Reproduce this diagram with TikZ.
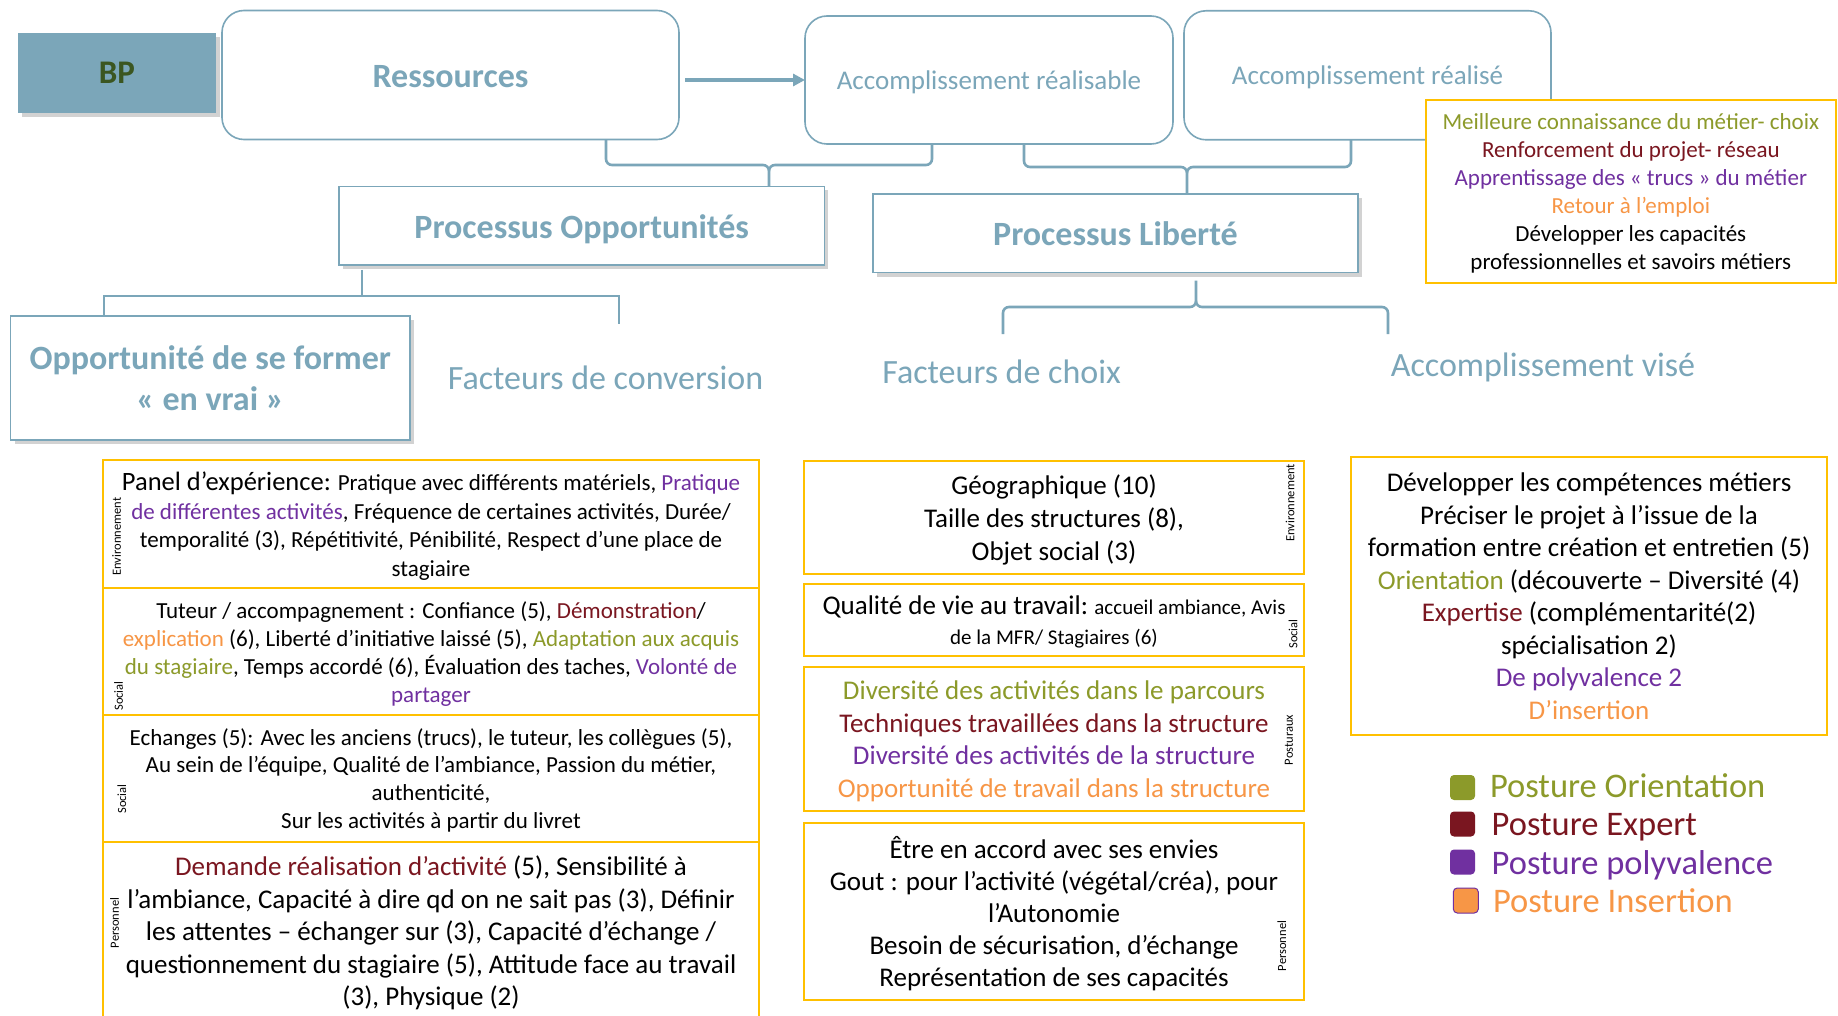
\documentclass[tikz,border=0pt]{standalone}
\usepackage{fontspec}
\setmainfont{Carlito}
\usetikzlibrary{arrows.meta,shadows,calc}
\definecolor{bgc}{RGB}{123,166,185}
\definecolor{bpgreen}{RGB}{59,86,33}
\definecolor{gold}{RGB}{255,192,0}
\definecolor{olive}{RGB}{140,154,42}
\definecolor{dred}{RGB}{122,22,32}
\definecolor{purp}{RGB}{112,48,160}
\definecolor{orng}{RGB}{247,150,70}
\newcommand{\fsz}[2]{\fontsize{#1}{#2}\selectfont}
\begin{document}
\begin{tikzpicture}[x=1pt,y=-1pt,
  every node/.style={inner sep=0pt, outer sep=0pt},
  rbox/.style={draw=bgc, line width=1.6pt, rounded corners=22pt, fill=white, text=bgc},
  sbox/.style={draw=bgc, line width=1.6pt, fill=white, text=bgc,
     drop shadow={shadow xshift=4pt, shadow yshift=-4pt, opacity=0.35}},
  big/.style={text height=25pt, text depth=0pt},
  mid/.style={text height=19pt, text depth=0pt},
  obox/.style={draw=gold, line width=2pt, fill=white, align=center, text=black, text depth=0pt},
  head/.style={text=bgc, font=\fsz{34}{38}, anchor=base},
  side/.style={rotate=90, font=\fsz{12.5}{14}, text=black},
  brk/.style={draw=bgc, line width=2.6pt},
  swatch/.style={minimum size=25pt, rounded corners=4pt},
  legtxt/.style={anchor=base west, font=\fsz{34.5}{38}},
]
\useasboundingbox (0,0) rectangle (1838,1016);
\fill[white] (0,0) rectangle (1838,1016);

% top row
\node[sbox, fill=bgc, draw=none, minimum width=198pt, minimum height=80pt, text=bpgreen, font=\bfseries\fsz{33}{38}] (bp) at (117,73) {BP};
\node[rbox, big, minimum width=457pt, minimum height=129pt, font=\bfseries\fsz{34}{38}] (res) at (450.5,75) {Ressources};
\node[rbox, mid, minimum width=368pt, minimum height=128pt, font=\fsz{27}{30}] (accr) at (989,80) {Accomplissement réalisable};
\node[rbox, mid, minimum width=367pt, minimum height=129pt, font=\fsz{27}{30}] (accz) at (1367.5,75.3) {Accomplissement réalisé};

\coordinate (ay) at (0,80);
\draw[bgc, line width=4pt, shorten <=6pt, -{Triangle[length=12pt,width=12pt]}] (res.east |- ay) -- (accr.west |- ay);

% process boxes
\node[sbox, big, minimum width=485.5pt, minimum height=78.5pt, font=\bfseries\fsz{34}{38}] (po) at (581.7,225.7) {Processus Opportunités};
\node[sbox, big, minimum width=485pt, minimum height=78.7pt, font=\bfseries\fsz{34}{38}] (pl) at (1115.5,233.3) {Processus Liberté};
\node[sbox, minimum width=399.4pt, minimum height=124pt, align=center, font=\bfseries\fsz{34}{41}] (opp) at (210.3,378) {Opportunité de se former\\« en vrai »};

\node[head] (fconv) at (605.5,389) {Facteurs de conversion};
\node[head] (fchoix) at (1001.6,383) {Facteurs de choix};
\node[head] (avise) at (1543,376) {Accomplissement visé};

% brackets
\coordinate (b1l) at (606,0); \coordinate (b1r) at (932,0); \coordinate (b1c) at (769,0);
\draw[brk] (res.south -| b1l) -- (606,159) to[out=-90,in=180] (612,165) -- (763,165) to[out=0,in=90] (769,171) -- (po.north -| b1c);
\draw[brk] (accr.south -| b1r) -- (932,159) to[out=-90,in=0] (926,165) -- (775,165) to[out=180,in=90] (769,171);

\coordinate (b2l) at (1024,0); \coordinate (b2r) at (1351,0); \coordinate (b2c) at (1187,0);
\draw[brk] (accr.south -| b2l) -- (1024,161) to[out=-90,in=180] (1030,167) -- (1181,167) to[out=0,in=90] (1187,173) -- (pl.north -| b2c);
\draw[brk] (accz.south -| b2r) -- (1351,161) to[out=-90,in=0] (1345,167) -- (1193,167) to[out=180,in=90] (1187,173);

\coordinate (b3l) at (104,0); \coordinate (b3c) at (362,0); \coordinate (b3r) at (619,324);
\draw[brk] ($(po.south -| b3c)+(0,5)$) -- (362,296);
\draw[brk] (opp.north -| b3l) -- (104,296) -- (619,296) -- (b3r);

\coordinate (b4c) at (1196,0); \coordinate (b4l) at (1003,334); \coordinate (b4r) at (1388,334);
\draw[brk] ($(pl.south -| b4c)+(0,8)$) -- (1196,301) to[out=-90,in=0] (1190,307) -- (1009,307) to[out=180,in=90] (1003,313) -- (b4l);
\draw[brk] (1196,301) to[out=-90,in=180] (1202,307) -- (1382,307) to[out=0,in=90] (1388,313) -- (b4r);

% top right box
\node[obox, minimum width=410.4pt, minimum height=182pt, font=\fsz{23}{28}] (tr) at (1630.8,191.5) {\textcolor{olive}{Meilleure connaissance du métier- choix}\\\textcolor{dred}{Renforcement du projet- réseau}\\\textcolor{purp}{Apprentissage des « trucs » du métier}\\\textcolor{orng}{Retour à l’emploi}\\Développer les capacités\\professionnelles et savoirs métiers};

% left column
\node[obox, minimum width=656pt, minimum height=128.3pt, font=\fsz{23}{28.5}] (l1) at (431,524.2) {{\fsz{26.5}{28.5}Panel d’expérience:} Pratique avec différents matériels, \textcolor{purp}{Pratique}\\\textcolor{purp}{de différentes activités}, Fréquence de certaines activités, Durée/\\temporalité (3), Répétitivité, Pénibilité, Respect d’une place de\\stagiaire};
\node[obox, minimum width=656pt, minimum height=126.7pt, font=\fsz{23}{28}] (l2) at (431,651.7) {Tuteur / accompagnement : Confiance (5), \textcolor{dred}{Démonstration}/\\\textcolor{orng}{explication} (6), Liberté d’initiative laissé (5), \textcolor{olive}{Adaptation aux acquis}\\\textcolor{olive}{du stagiaire}, Temps accordé (6), Évaluation des taches, \textcolor{purp}{Volonté de}\\\textcolor{purp}{partager}};
\node[obox, minimum width=656pt, minimum height=126.7pt, font=\fsz{23}{27.8}] (l3) at (431,778.3) {Echanges (5): Avec les anciens (trucs), le tuteur, les collègues (5),\\Au sein de l’équipe, Qualité de l’ambiance, Passion du métier,\\authenticité,\\Sur les activités à partir du livret};
\node[obox, minimum width=656pt, minimum height=178.3pt, font=\fsz{27}{32.4}] (l4) at (431,930.8) {\textcolor{dred}{Demande réalisation d’activité} (5), Sensibilité à\\l’ambiance, Capacité à dire qd on ne sait pas (3), Définir\\les attentes – échanger sur (3), Capacité d’échange /\\questionnement du stagiaire (5), Attitude face au travail\\(3), Physique (2)};

\node[side] (e1) at (116.5,536.5) {Environnement};
\node[side] (s1) at (118.6,696) {Social};
\node[side] (s2) at (121.9,799) {Social};
\node[side] (p1) at (114.5,923) {Personnel};

% middle column
\node[obox, minimum width=499.7pt, minimum height=113pt, font=\fsz{27}{33.3}] (m1) at (1054,517.5) {Géographique (10)\\Taille des structures (8),\\Objet social (3)};
\node[obox, minimum width=499.7pt, minimum height=71.7pt, font=\fsz{21}{30}] (m2) at (1054,619.8) {{\fsz{27}{30}Qualité de vie au travail:} accueil ambiance, Avis\\de la MFR/ Stagiaires (6)};
\node[obox, minimum width=499.7pt, minimum height=143.7pt, font=\fsz{27}{32.5}] (m3) at (1054,739.2) {\textcolor{olive}{Diversité des activités dans le parcours}\\\textcolor{dred}{Techniques travaillées dans la structure}\\\textcolor{purp}{Diversité des activités de la structure}\\\textcolor{orng}{Opportunité de travail dans la structure}};
\node[obox, minimum width=499.7pt, minimum height=177.3pt, font=\fsz{27}{32}] (m4) at (1054,911.3) {Être en accord avec ses envies\\Gout : pour l’activité (végétal/créa), pour\\l’Autonomie\\Besoin de sécurisation, d’échange\\Représentation de ses capacités};

\node[side] (e2) at (1290,503) {Environnement};
\node[side] (s3) at (1293,634) {Social};
\node[side] (p2) at (1289,740) {Posturaux};
\node[side] (p3) at (1281.7,946) {Personnel};

% right column
\node[obox, minimum width=476.6pt, minimum height=277.7pt, font=\fsz{27}{32.5}] (r1) at (1589,596.2) {Développer les compétences métiers\\Préciser le projet à l’issue de la\\formation entre création et entretien (5)\\\textcolor{olive}{Orientation} (découverte – Diversité (4)\\\textcolor{dred}{Expertise} (complémentarité(2)\\spécialisation 2)\\\textcolor{purp}{De polyvalence 2}\\\textcolor{orng}{D’insertion}};

% legend
\node[swatch, fill=olive] (sq1) at (1462.5,787.5) {};
\node[swatch, fill=dred] (sq2) at (1462.5,824) {};
\node[swatch, fill=purp] (sq3) at (1462.5,862) {};
\node[swatch, fill=orng, draw=purp, line width=1pt] (sq4) at (1465.8,900.5) {};
\node[legtxt, text=olive] (t1) at (1490,797) {Posture Orientation};
\node[legtxt, text=dred] (t2) at (1491.7,835.5) {Posture Expert};
\node[legtxt, text=purp] (t3) at (1491.7,874.5) {Posture polyvalence};
\node[legtxt, text=orng] (t4) at (1493,912.5) {Posture Insertion};
\end{tikzpicture}
\end{document}
